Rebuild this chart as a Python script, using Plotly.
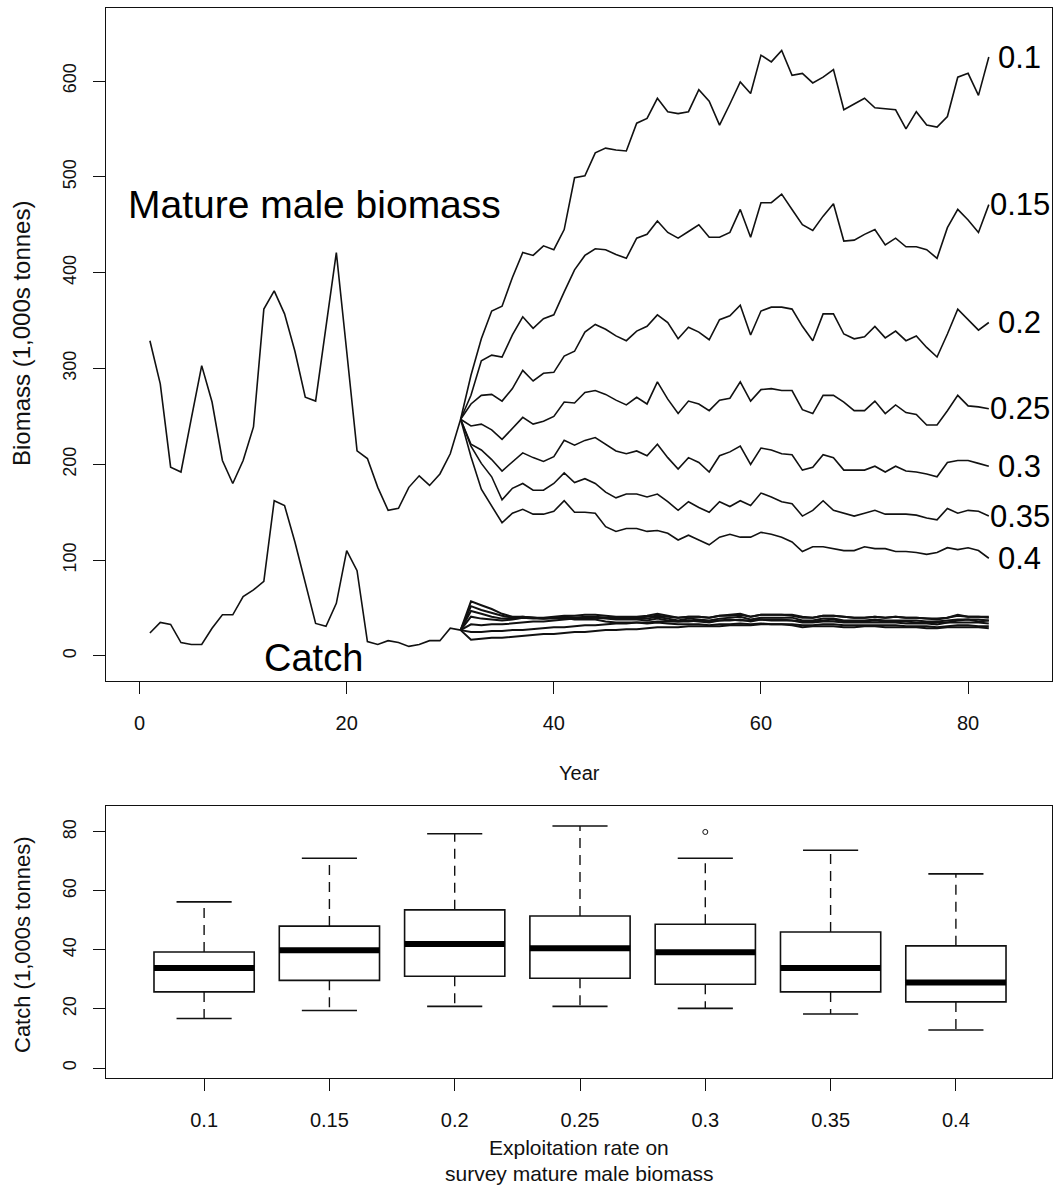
import plotly.graph_objects as go

FONT = "Liberation Sans, Arial, sans-serif"
INK = "#111111"

# ---------------- data: top panel ----------------
hist_years = list(range(1, 32))
proj_years = list(range(31, 83))

hist_biomass = [329, 284, 197, 192, 248, 303, 265, 204, 180, 204,
                239, 362, 381, 357, 318, 270, 266, 343, 421, 318,
                214, 206, 176, 152, 154, 176, 188, 178, 190, 211, 247]

hist_catch = [24, 35, 33, 14, 12, 12, 29, 43, 43, 62,
              69, 78, 162, 157, 119, 77, 34, 31, 55, 110,
              89, 15, 12, 16, 14, 10, 12, 16, 16, 29, 27]

rate_labels = ["0.1", "0.15", "0.2", "0.25", "0.3", "0.35", "0.4"]

bio_010 = [247, 293, 331, 360, 365, 395, 421, 418, 428, 424,
           445, 499, 501, 525, 530, 528, 527, 556, 561, 582,
           568, 566, 568, 591, 579, 554, 576, 599, 587, 627,
           620, 632, 606, 608, 598, 604, 612, 570, 576, 582,
           572, 571, 570, 550, 568, 554, 552, 563, 604, 608,
           585, 625]
bio_015 = [247, 272, 308, 314, 312, 335, 354, 342, 352, 356,
           380, 403, 418, 425, 424, 419, 415, 436, 440, 454,
           442, 436, 443, 450, 437, 437, 442, 466, 437, 473,
           473, 482, 466, 450, 444, 459, 472, 433, 434, 440,
           445, 429, 436, 427, 427, 424, 415, 447, 466, 455,
           442, 471]
bio_020 = [247, 263, 272, 273, 266, 279, 298, 287, 295, 296,
           313, 318, 338, 346, 341, 334, 329, 339, 344, 356,
           348, 331, 343, 338, 330, 351, 355, 366, 335, 360,
           364, 364, 362, 344, 329, 357, 357, 336, 331, 333,
           344, 332, 339, 329, 334, 322, 312, 336, 362, 351,
           340, 348]
bio_025 = [247, 240, 242, 236, 226, 238, 249, 242, 245, 250,
           265, 264, 275, 277, 273, 267, 262, 270, 263, 286,
           268, 253, 266, 263, 256, 267, 269, 286, 266, 278,
           279, 277, 277, 257, 253, 272, 272, 265, 256, 256,
           266, 253, 262, 254, 252, 241, 241, 256, 272, 261,
           260, 258]
bio_030 = [247, 221, 215, 205, 193, 203, 212, 207, 203, 208,
           225, 220, 225, 228, 221, 214, 211, 214, 209, 221,
           207, 195, 207, 202, 192, 209, 213, 219, 200, 217,
           215, 211, 210, 194, 197, 210, 207, 194, 194, 194,
           198, 192, 198, 193, 192, 190, 187, 202, 204, 204,
           201, 198]
bio_035 = [247, 219, 201, 187, 163, 175, 180, 173, 173, 180,
           191, 181, 185, 180, 171, 165, 169, 169, 166, 169,
           161, 152, 161, 155, 150, 161, 156, 162, 157, 170,
           166, 161, 159, 146, 152, 162, 152, 149, 146, 149,
           152, 148, 148, 148, 147, 144, 142, 154, 149, 152,
           151, 146]
bio_040 = [247, 208, 174, 157, 139, 149, 153, 148, 148, 151,
           162, 150, 150, 149, 135, 130, 133, 133, 130, 131,
           128, 121, 126, 121, 116, 124, 127, 124, 124, 129,
           127, 124, 119, 109, 114, 114, 112, 110, 110, 114,
           112, 112, 109, 109, 108, 106, 108, 113, 111, 113,
           110, 102]

catch_010 = [27, 17, 18, 19, 19, 20, 21, 22, 23, 23,
             24, 25, 25, 26, 27, 27, 28, 28, 29, 30,
             30, 30, 31, 31, 31, 31, 32, 32, 32, 33,
             33, 33, 33, 32, 32, 33, 33, 32, 32, 32,
             32, 32, 32, 31, 31, 31, 30, 31, 32, 32,
             31, 31]
catch_015 = [27, 25, 25, 26, 26, 27, 27, 28, 29, 30,
             30, 31, 32, 32, 33, 34, 34, 35, 35, 36,
             36, 36, 36, 37, 36, 37, 38, 37, 37, 38,
             38, 38, 37, 36, 36, 37, 38, 36, 36, 36,
             37, 36, 36, 36, 35, 35, 35, 35, 37, 38,
             36, 37]
catch_020 = [27, 33, 32, 33, 33, 34, 35, 36, 36, 37,
             38, 39, 39, 40, 40, 40, 40, 40, 41, 42,
             41, 40, 41, 41, 40, 42, 42, 43, 41, 43,
             43, 43, 43, 41, 40, 42, 42, 41, 40, 40,
             41, 40, 41, 40, 40, 39, 38, 40, 42, 41,
             41, 40]
catch_025 = [27, 41, 39, 38, 37, 38, 40, 40, 40, 41,
             42, 42, 43, 43, 42, 41, 41, 41, 42, 44,
             42, 40, 41, 41, 40, 42, 43, 44, 41, 43,
             43, 43, 42, 40, 40, 42, 42, 41, 40, 40,
             41, 40, 41, 40, 40, 39, 39, 40, 43, 41,
             41, 41]
catch_030 = [27, 47, 44, 41, 39, 39, 40, 39, 39, 40,
             41, 40, 41, 41, 40, 39, 39, 39, 39, 41,
             39, 37, 39, 38, 37, 39, 40, 41, 38, 40,
             40, 40, 40, 37, 37, 39, 39, 37, 37, 37,
             38, 37, 37, 37, 37, 36, 36, 37, 38, 38,
             38, 37]
catch_035 = [27, 52, 48, 45, 42, 40, 41, 40, 39, 40,
             41, 40, 40, 40, 39, 38, 38, 38, 37, 39,
             37, 36, 37, 36, 35, 37, 37, 38, 36, 38,
             37, 37, 37, 35, 35, 36, 36, 35, 35, 35,
             35, 35, 35, 34, 34, 34, 33, 35, 35, 35,
             35, 34]
catch_040 = [27, 57, 53, 49, 44, 41, 41, 40, 39, 39,
             40, 38, 38, 38, 36, 35, 35, 35, 34, 35,
             34, 33, 33, 33, 32, 33, 33, 34, 33, 34,
             33, 33, 32, 30, 31, 31, 31, 30, 30, 31,
             31, 30, 30, 30, 30, 29, 29, 30, 30, 30,
             30, 29]

proj_biomass = [bio_010, bio_015, bio_020, bio_025, bio_030, bio_035, bio_040]
proj_catch = [catch_010, catch_015, catch_020, catch_025, catch_030, catch_035, catch_040]

# ---------------- data: bottom panel (boxplot) ----------------
box_pos = list(range(1, 8))
box_low = [16.8, 19.5, 20.9, 20.9, 20.2, 18.3, 12.9]
box_q1 = [25.8, 29.7, 31.1, 30.4, 28.4, 25.8, 22.4]
box_median = [33.9, 39.9, 42.0, 40.6, 39.2, 33.9, 29.0]
box_q3 = [39.3, 48.1, 53.6, 51.5, 48.7, 46.1, 41.4]
box_high = [56.3, 71.1, 79.4, 82.0, 71.1, 73.8, 65.8]
outlier_pos = [5]
outlier_val = [80.0]

fig = go.Figure()

line_style = dict(color=INK, width=1.6)
catch_style = dict(color=INK, width=2.0)

# historical series
fig.add_trace(go.Scatter(x=hist_years, y=hist_biomass, mode="lines", line=line_style,
                         xaxis="x", yaxis="y", showlegend=False, hoverinfo="skip"))
fig.add_trace(go.Scatter(x=hist_years, y=hist_catch, mode="lines", line=line_style,
                         xaxis="x", yaxis="y", showlegend=False, hoverinfo="skip"))
# projections
for series in proj_biomass:
    fig.add_trace(go.Scatter(x=proj_years, y=series, mode="lines", line=line_style,
                             xaxis="x", yaxis="y", showlegend=False, hoverinfo="skip"))
for series in proj_catch:
    fig.add_trace(go.Scatter(x=proj_years, y=series, mode="lines", line=catch_style,
                             xaxis="x", yaxis="y", showlegend=False, hoverinfo="skip"))

# ---------------- boxplot ----------------
BOXW = 0.8
CAP = 0.22
fig.add_trace(go.Box(x=box_pos, q1=box_q1, median=box_median, q3=box_q3,
                     lowerfence=box_q1, upperfence=box_q3, width=BOXW,
                     whiskerwidth=0, fillcolor="white",
                     line=dict(color=INK, width=1.6), boxpoints=False,
                     xaxis="x2", yaxis="y2", showlegend=False, hoverinfo="skip"))

wx, wy, cx, cy, mx, my = [], [], [], [], [], []
for p, lo, q1, md, q3, hi in zip(box_pos, box_low, box_q1, box_median, box_q3, box_high):
    wx += [p, p, None, p, p, None]
    wy += [q3, hi, None, q1, lo, None]
    cx += [p - CAP, p + CAP, None, p - CAP, p + CAP, None]
    cy += [hi, hi, None, lo, lo, None]
    mx += [p - BOXW / 2, p + BOXW / 2, None]
    my += [md, md, None]

fig.add_trace(go.Scatter(x=wx, y=wy, mode="lines", line=dict(color=INK, width=1.4, dash="10px,7px"),
                         xaxis="x2", yaxis="y2", showlegend=False, hoverinfo="skip"))
fig.add_trace(go.Scatter(x=cx, y=cy, mode="lines", line=dict(color=INK, width=1.6),
                         xaxis="x2", yaxis="y2", showlegend=False, hoverinfo="skip"))
fig.add_trace(go.Scatter(x=mx, y=my, mode="lines", line=dict(color="black", width=6),
                         xaxis="x2", yaxis="y2", showlegend=False, hoverinfo="skip"))
fig.add_trace(go.Scatter(x=outlier_pos, y=outlier_val, mode="markers",
                         marker=dict(symbol="circle-open", size=5, color=INK, line=dict(width=1)),
                         xaxis="x2", yaxis="y2", showlegend=False, hoverinfo="skip"))

# ---------------- annotations ----------------
ann = []
for lab, series in zip(rate_labels, proj_biomass):
    ann.append(dict(x=85, y=series[-1], xref="x", yref="y", text=lab, showarrow=False,
                    font=dict(family=FONT, size=31, color="black"),
                    xanchor="center", yanchor="middle"))
ann.append(dict(x=16.9, y=471, xref="x", yref="y", text="Mature male biomass", showarrow=False,
                font=dict(family=FONT, size=39, color="black"), xanchor="center", yanchor="middle"))
ann.append(dict(x=16.8, y=-2, xref="x", yref="y", text="Catch", showarrow=False,
                font=dict(family=FONT, size=38, color="black"), xanchor="center", yanchor="middle"))

L, R, T, B = 106, 2, 8, 108
PW, PH = 1054 - L - R, 1186 - T - B


def px_x(px):
    return (px - L) / PW


def px_y(py):
    return (1186 - B - py) / PH


ann.append(dict(x=px_x(579), y=px_y(773), xref="paper", yref="paper", text="Year",
                showarrow=False, font=dict(family=FONT, size=20, color="#111"),
                xanchor="center", yanchor="middle"))
ann.append(dict(x=px_x(21), y=px_y(334), xref="paper", yref="paper", text="Biomass (1,000s tonnes)",
                showarrow=False, textangle=-90, font=dict(family=FONT, size=24, color="#111"),
                xanchor="center", yanchor="middle"))
ann.append(dict(x=px_x(22), y=px_y(945), xref="paper", yref="paper", text="Catch (1,000s tonnes)",
                showarrow=False, textangle=-90, font=dict(family=FONT, size=22, color="#111"),
                xanchor="center", yanchor="middle"))
ann.append(dict(x=px_x(579), y=px_y(1147), xref="paper", yref="paper", text="Exploitation rate on",
                showarrow=False, font=dict(family=FONT, size=21, color="#111"),
                xanchor="center", yanchor="middle"))
ann.append(dict(x=px_x(579), y=px_y(1173), xref="paper", yref="paper", text="survey mature male biomass",
                showarrow=False, font=dict(family=FONT, size=21, color="#111"),
                xanchor="center", yanchor="middle"))

axis_common = dict(showline=True, mirror=True, linecolor="#111", linewidth=1.4,
                   ticks="outside", ticklen=12, tickwidth=1.4, tickcolor="#111",
                   showgrid=False, zeroline=False)

fig.update_layout(
    width=1054, height=1186,
    margin=dict(l=L, r=R, t=T, b=B),
    paper_bgcolor="white", plot_bgcolor="white",
    showlegend=False,
    annotations=ann,
    xaxis=dict(domain=[0, 1], anchor="y", range=[-3.24, 88.1],
               tickvals=[0, 20, 40, 60, 80], ticktext=["0", "20", "40", "60", "80"],
               tickfont=dict(family=FONT, size=20, color="#111"), ticklabelstandoff=12,
               **axis_common),
    yaxis=dict(domain=[px_y(681), px_y(8)], anchor="x", range=[-26.1, 676.2],
               tickvals=[0, 100, 200, 300, 400, 500, 600], tickangle=-90,
               tickfont=dict(family=FONT, size=18, color="#111"), ticklabelstandoff=10,
               **axis_common),
    xaxis2=dict(domain=[0, 1], anchor="y2", range=[0.217, 7.767],
                tickvals=box_pos, ticktext=rate_labels,
                tickfont=dict(family=FONT, size=20, color="#111"), ticklabelstandoff=12,
                **axis_common),
    yaxis2=dict(domain=[px_y(1078), px_y(806)], anchor="x2", range=[-3.39, 88.8],
                tickvals=[0, 20, 40, 60, 80], tickangle=-90,
                tickfont=dict(family=FONT, size=18, color="#111"), ticklabelstandoff=10,
                **axis_common),
)

fig.write_html("out.html")
